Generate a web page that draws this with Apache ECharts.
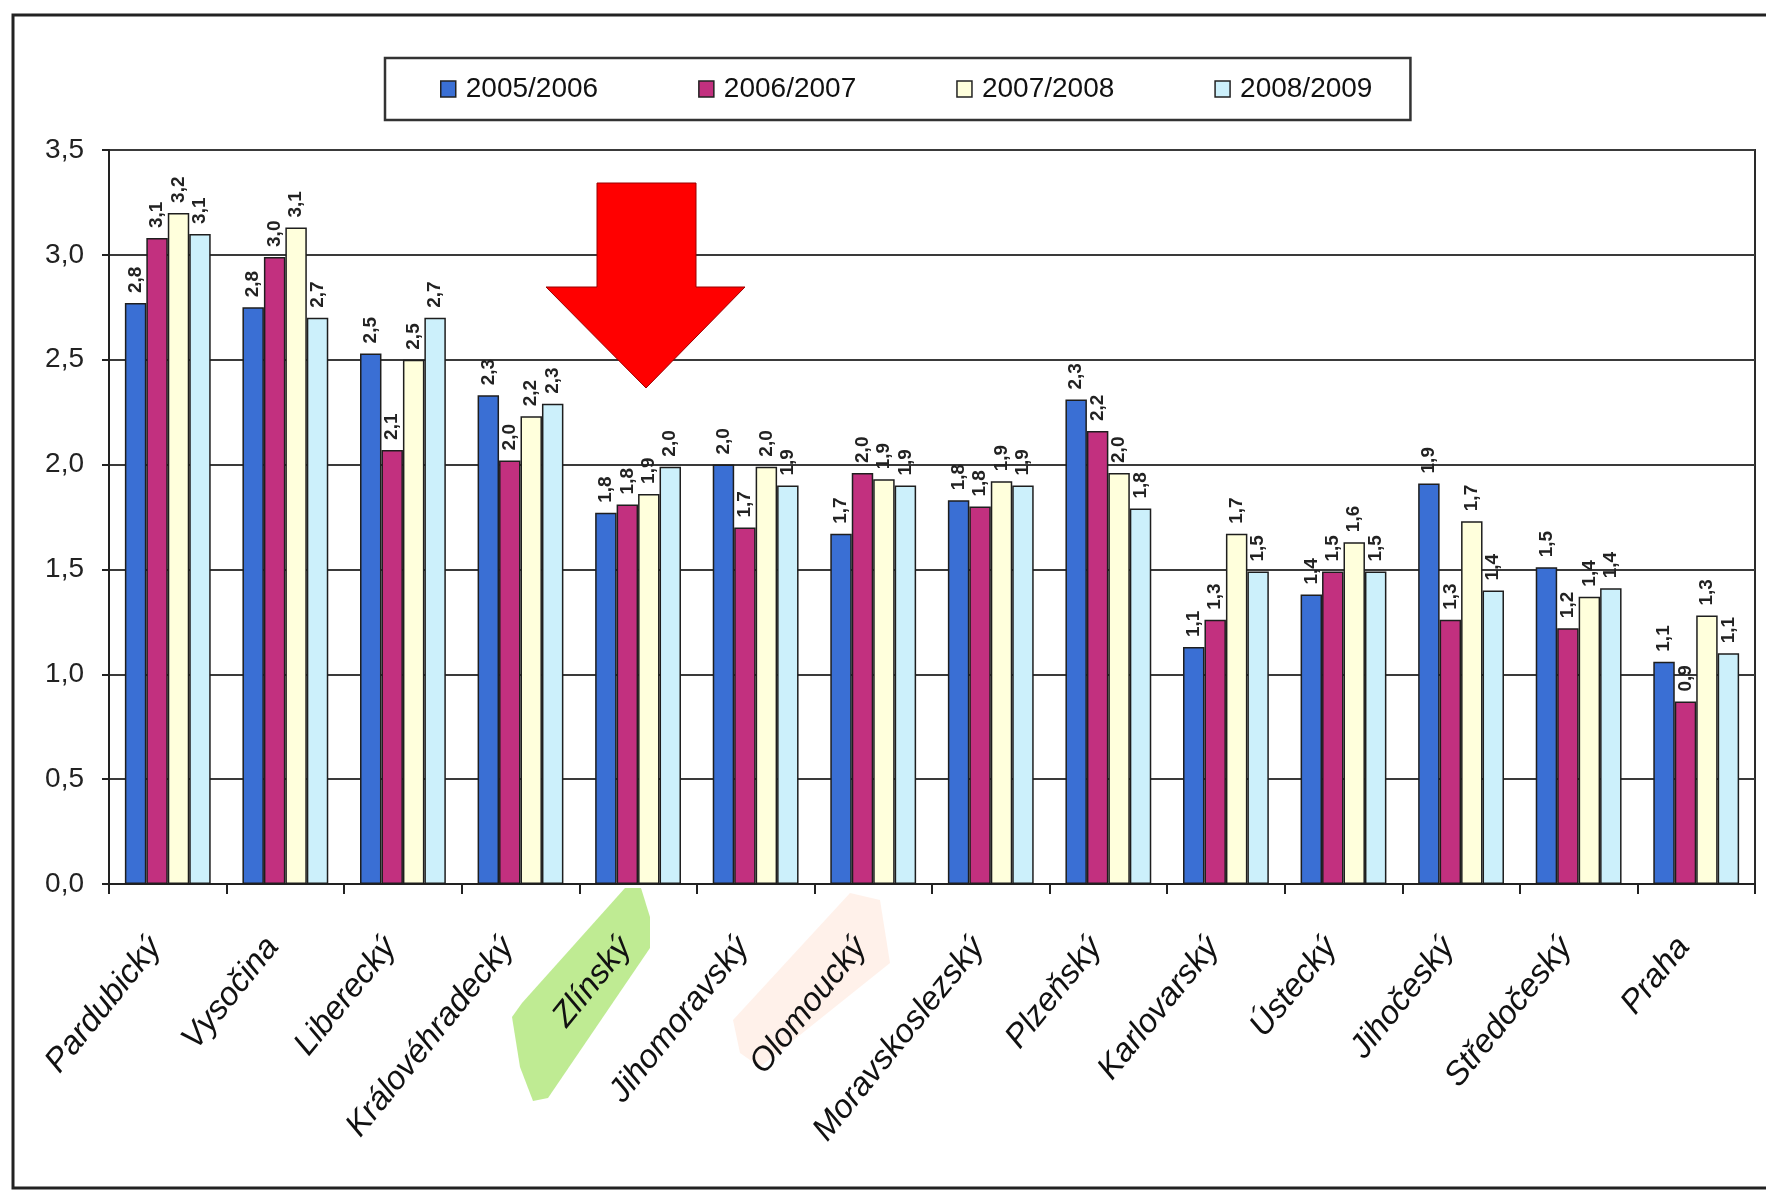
<!DOCTYPE html>
<html><head><meta charset="utf-8">
<script src="https://cdn.jsdelivr.net/npm/echarts@6/dist/echarts.min.js"></script>
<style>html,body{margin:0;padding:0;background:#fff}#c{width:1766px;height:1192px}</style>
</head><body><div id="c"></div>
<script>
const categories = ['Pardubický','Vysočina','Liberecký','Královéhradecký','Zlínský','Jihomoravský','Olomoucký','Moravskoslezský','Plzeňský','Karlovarský','Ústecký','Jihočeský','Středočeský','Praha'];
const seriesNames = ['2005/2006','2006/2007','2007/2008','2008/2009'];
const v2005 = [2.77, 2.75, 2.53, 2.33, 1.77, 2.00, 1.67, 1.83, 2.31, 1.13, 1.38, 1.91, 1.51, 1.06];
const v2006 = [3.08, 2.99, 2.07, 2.02, 1.81, 1.70, 1.96, 1.80, 2.16, 1.26, 1.49, 1.26, 1.22, 0.87];
const v2007 = [3.20, 3.13, 2.50, 2.23, 1.86, 1.99, 1.93, 1.92, 1.96, 1.67, 1.63, 1.73, 1.37, 1.28];
const v2008 = [3.10, 2.70, 2.70, 2.29, 1.99, 1.90, 1.90, 1.90, 1.79, 1.49, 1.49, 1.40, 1.41, 1.10];
const yMin = 0, yMax = 3.5, yStep = 0.5;
const colors = ['#3a6fd4', '#c2307f', '#ffffdc', '#ccf0fb'];

const fmt = v => (Math.round(v * 10) / 10).toFixed(1).replace('.', ',');
const allValues = [v2005, v2006, v2007, v2008];
const FONT = '"Liberation Sans", Arial, sans-serif';

const chart = echarts.init(document.getElementById('c'), null, {renderer: 'canvas'});
chart.setOption({
  backgroundColor: '#fff',
  animation: false,
  color: colors,
  grid: {left: 109, right: 11, top: 150, bottom: 308, show: true, borderColor: '#2a2a2a', borderWidth: 2, backgroundColor: 'transparent'},
  legend: {
    left: 385, top: 58, padding: [17, 38, 17, 55], itemGap: 100, itemWidth: 15, itemHeight: 16,
    borderColor: '#333', borderWidth: 2.5, icon: 'rect',
    itemStyle: {borderColor: '#222', borderWidth: 1.5},
    textStyle: {fontFamily: FONT, fontSize: 28, color: '#111', padding: [0, 0, 0, 5]},
    data: seriesNames
  },
  xAxis: {
    type: 'category', data: categories, boundaryGap: true,
    axisLine: {lineStyle: {color: '#222', width: 2}},
    axisTick: {show: true, length: 10, inside: false, lineStyle: {color: '#222', width: 2}},
    axisLabel: {rotate: 51, margin: 42, interval: 0, padding: [0, 20, 0, 0], fontFamily: FONT, fontStyle: 'italic', fontSize: 33, color: '#111'}
  },
  yAxis: {
    type: 'value', min: yMin, max: yMax, interval: yStep,
    axisLine: {show: true, lineStyle: {color: '#222', width: 2}},
    axisTick: {show: true, length: 7, lineStyle: {color: '#222', width: 2}},
    axisLabel: {margin: 25, fontFamily: FONT, fontSize: 28, color: '#222', formatter: v => v.toFixed(1).replace('.', ',')},
    splitLine: {show: true, lineStyle: {color: '#3a3a3a', width: 2}}
  },
  series: seriesNames.map((name, i) => ({
    name: name, type: 'bar', data: allValues[i],
    barGap: '0%', barCategoryGap: '27%',
    itemStyle: {color: colors[i], borderColor: '#1e1e1e', borderWidth: 1.5},
    label: {show: true, position: 'top', rotate: 90, align: 'left', verticalAlign: 'middle', distance: 10,
      fontFamily: FONT, fontWeight: 'bold', fontSize: 19, color: '#222',
      formatter: p => fmt(p.value)}
  })),
  graphic: [
    {type: 'rect', z: 100, shape: {x: 13, y: 15, width: 1800, height: 1173}, style: {fill: 'none', stroke: '#222', lineWidth: 3}},
    {type: 'polygon', z: -1, shape: {points: [[625,888],[641,888],[650,917],[650,948],[548,1098],[533,1101],[520,1067],[512,1017],[522,1003]]}, style: {fill: 'rgba(175,230,120,0.8)'}},
    {type: 'polygon', z: -1, shape: {points: [[850,893],[880,900],[890,963],[760,1067],[740,1053],[733,1020]]}, style: {fill: 'rgba(255,215,195,0.35)'}},
    {type: 'polygon', z: 100, shape: {points: [[597,183],[696,183],[696,287],[745,287],[646,388],[546,287],[597,287]]}, style: {fill: '#ff0000', stroke: '#9a0000', lineWidth: 1}}
  ]
});
</script>
</body></html>
